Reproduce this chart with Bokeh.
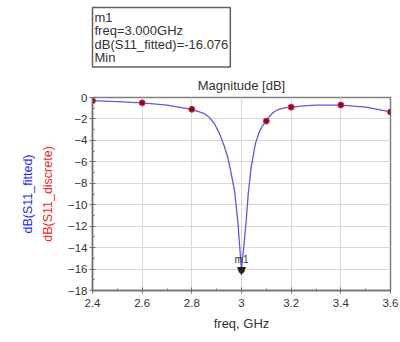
from bokeh.plotting import figure
from bokeh.models import Label, Range1d, FixedTicker, Title
from bokeh.embed import file_html
from bokeh.resources import INLINE

fit_freq = [2.4, 2.5, 2.6, 2.7, 2.8, 2.85, 2.87, 2.89, 2.91, 2.93, 2.945, 2.956, 2.972, 2.985, 2.993,
            2.997, 3.0, 3.003, 3.009, 3.019, 3.027, 3.039, 3.056, 3.07, 3.083, 3.1, 3.117, 3.13,
            3.15, 3.18, 3.2, 3.25, 3.3, 3.4, 3.5, 3.6]
fit_db = [-0.3, -0.38, -0.5, -0.72, -1.1, -1.5, -1.85, -2.4, -3.3, -4.5, -5.6, -6.8, -8.7, -11.5, -14.0,
          -15.3, -16.08, -15.3, -14.0, -11.5, -9.0, -6.5, -4.3, -3.3, -2.7, -2.2, -1.65, -1.35,
          -1.1, -0.95, -0.9, -0.78, -0.72, -0.72, -0.9, -1.35]

disc_freq = [2.4, 2.6, 2.8, 3.0, 3.1, 3.2, 3.4, 3.6]
disc_db = [-0.3, -0.5, -1.1, -16.1, -2.2, -0.9, -0.7, -1.35]

marker_freq = [3.0]
marker_db = [-16.076]

x_ticks = [2.4, 2.6, 2.8, 3.0, 3.2, 3.4, 3.6]
y_ticks = [0, -2, -4, -6, -8, -10, -12, -14, -16, -18]

box_lines = ["m1", "freq=3.000GHz", "dB(S11_fitted)=-16.076", "Min"]

FONT = "Liberation Sans"

p = figure(width=400, height=342, output_backend="svg", toolbar_location=None,
           x_range=Range1d(2.4, 3.6), y_range=Range1d(-18, 0),
           min_border_left=92, min_border_right=10, min_border_top=97, min_border_bottom=52)
p.background_fill_color = "white"
p.border_fill_color = "white"
p.outline_line_color = "#808080"
p.outline_line_width = 1.5

p.xaxis.ticker = FixedTicker(ticks=x_ticks, minor_ticks=[2.5, 2.7, 2.9, 3.1, 3.3, 3.5])
p.yaxis.ticker = FixedTicker(ticks=y_ticks, minor_ticks=[-1, -3, -5, -7, -9, -11, -13, -15, -17])
for ax in (p.xaxis[0], p.yaxis[0]):
    ax.axis_line_color = "#707070"
    ax.axis_line_width = 1.5
    ax.major_tick_line_color = "#707070"
    ax.minor_tick_line_color = "#707070"
    ax.major_tick_in = 3
    ax.major_tick_out = 3
    ax.minor_tick_in = 2
    ax.minor_tick_out = 0
    ax.major_label_text_font = FONT
    ax.major_label_text_font_size = "11.5px"
    ax.major_label_text_color = "#333333"
    ax.axis_label_text_font = FONT
    ax.axis_label_text_font_style = "normal"
    ax.axis_label_text_font_size = "13px"
p.xaxis.axis_label = "freq, GHz"
p.xaxis.axis_label_text_color = "#333333"
p.xaxis.axis_label_standoff = 6
p.yaxis.major_label_standoff = 2

p.xgrid.grid_line_color = "#d8d8d8"
p.ygrid.grid_line_color = "#d8d8d8"

main_title = Title(text="Magnitude [dB]", align="center", text_font=FONT,
                   text_font_size="13px", text_font_style="normal", text_color="#333333",
                   standoff=9)
box_title = Title(text="\n".join(box_lines), align="left", text_font=FONT,
                  text_font_size="13px", text_font_style="normal", text_color="#333333",
                  text_line_height=0.9, border_line_color="#606060", border_line_width=1.5,
                  background_fill_color="white", padding=2, standoff=9)
p.title = None
p.above = [main_title, box_title]

# y axis labels (rotated, on the left)
p.add_layout(Title(text="dB(S11_discrete)", align="center", text_font=FONT,
                   text_font_size="12.5px", text_font_style="normal", text_color="#f02a2a",
                   standoff=20), "left")
p.add_layout(Title(text="dB(S11_fitted)", align="center", text_font=FONT,
                   text_font_size="12.5px", text_font_style="normal", text_color="#2a2af0",
                   standoff=-12), "left")

p.line(fit_freq, fit_db, line_color="#5a5ae0", line_width=1.3)
p.scatter(disc_freq, disc_db, marker="circle", size=6, fill_color="#7a1030",
          line_color="#e03040", line_width=1)
p.scatter(marker_freq, marker_db, marker="inverted_triangle", size=8,
          fill_color="#202020", line_color="#202020")
p.add_layout(Label(x=marker_freq[0], y=marker_db[0], text="m1", text_font=FONT,
                   text_font_size="10px", text_color="#333333", text_align="center",
                   y_offset=5))

open("out.html", "w").write(file_html(p, INLINE))
